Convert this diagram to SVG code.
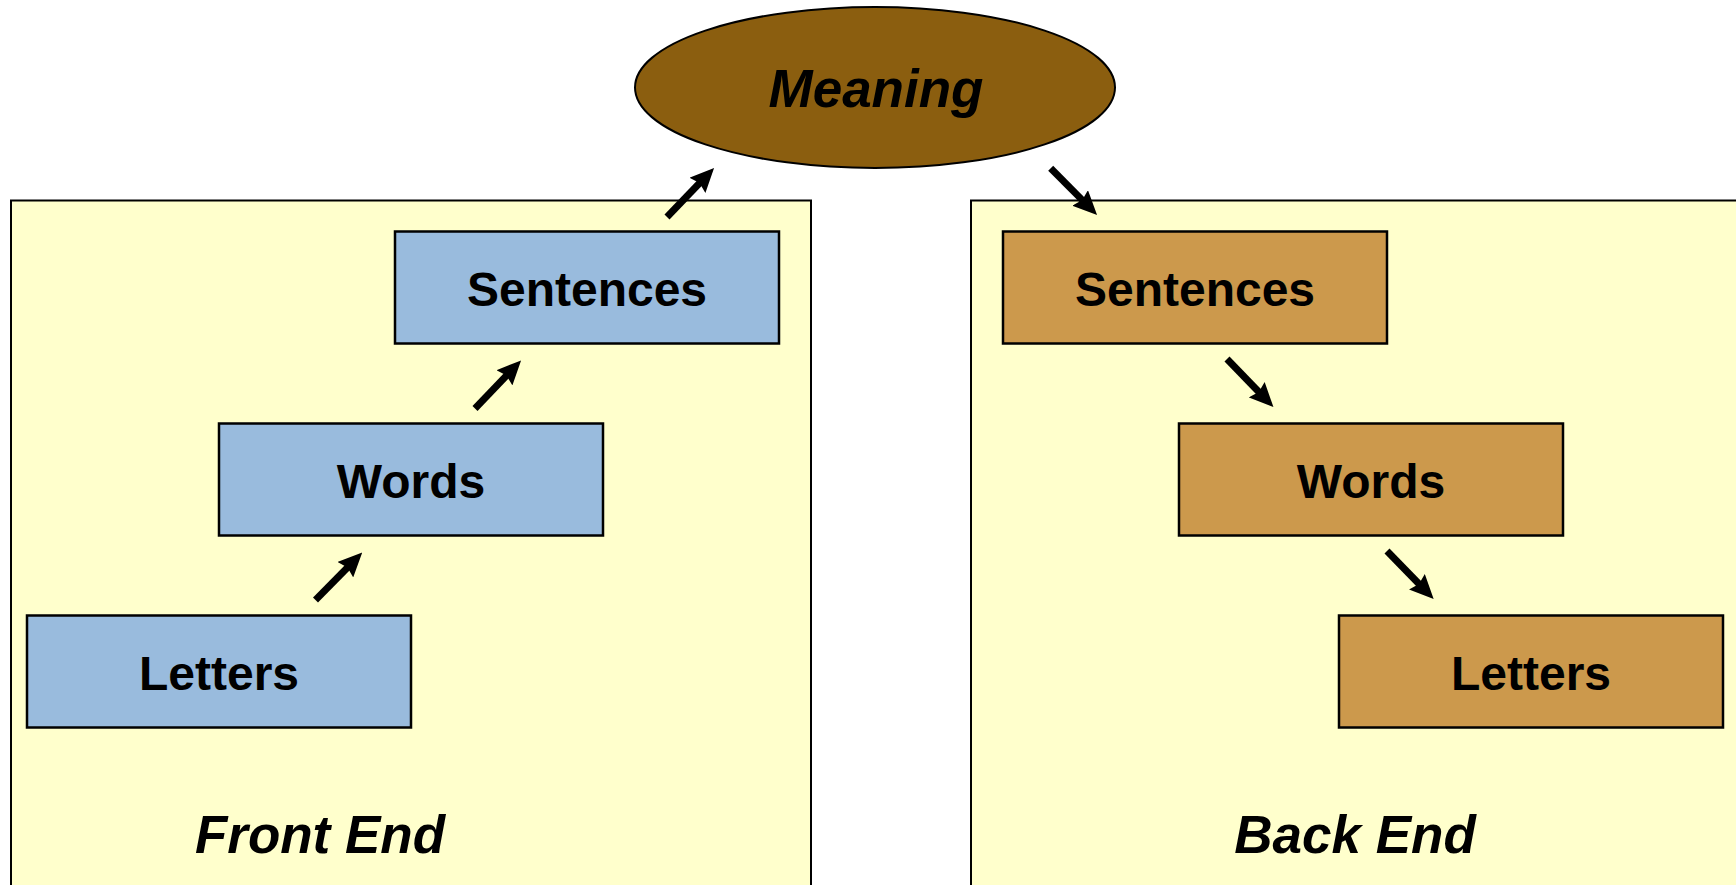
<svg xmlns="http://www.w3.org/2000/svg" width="1736" height="885" viewBox="0 0 1736 885">
<style>
.panel{fill:#FFFFCC;stroke:#000;stroke-width:2}
.blue{fill:#99BBDD;stroke:#000;stroke-width:2.5}
.tan{fill:#CC994C;stroke:#000;stroke-width:2.5}
.lbl{font-family:"Liberation Sans",Arial,sans-serif;font-weight:bold;font-size:48px;text-anchor:middle;fill:#000}
.ital{font-family:"Liberation Sans",Arial,sans-serif;font-weight:bold;font-style:italic;font-size:53px;text-anchor:middle;fill:#000}
.arr{stroke:#000;stroke-width:7;fill:none;marker-end:url(#ah)}
</style>
<defs>
<marker id="ah" markerUnits="userSpaceOnUse" viewBox="0 0 24 22" refX="8" refY="11" markerWidth="24" markerHeight="22" orient="auto">
<path d="M0,0 L24,11 L0,22 L3,11 z" fill="#000"/>
</marker>
</defs>
<rect width="1736" height="885" fill="#fff"/>
<g id="front-end">
<rect class="panel" x="11" y="200.5" width="800" height="700"/>
<text class="ital" x="320" y="853">Front End</text>
</g>
<g id="back-end">
<rect class="panel" x="971" y="200.5" width="800" height="700"/>
<text class="ital" x="1355" y="853">Back End</text>
</g>
<g id="meaning">
<ellipse cx="875" cy="87.5" rx="240" ry="80.5" fill="#8B5E0F" stroke="#000" stroke-width="2"/>
<text class="ital" x="876" y="107">Meaning</text>
</g>
<g id="fe-sentences">
<rect class="blue" x="395" y="231.5" width="384" height="112"/>
<text class="lbl" x="587" y="306">Sentences</text>
</g>
<g id="fe-words">
<rect class="blue" x="219" y="423.5" width="384" height="112"/>
<text class="lbl" x="411" y="498">Words</text>
</g>
<g id="fe-letters">
<rect class="blue" x="27" y="615.5" width="384" height="112"/>
<text class="lbl" x="219" y="690">Letters</text>
</g>
<g id="be-sentences">
<rect class="tan" x="1003" y="231.5" width="384" height="112"/>
<text class="lbl" x="1195" y="306">Sentences</text>
</g>
<g id="be-words">
<rect class="tan" x="1179" y="423.5" width="384" height="112"/>
<text class="lbl" x="1371" y="498">Words</text>
</g>
<g id="be-letters">
<rect class="tan" x="1339" y="615.5" width="384" height="112"/>
<text class="lbl" x="1531" y="690">Letters</text>
</g>
<g id="connectors">
<line class="arr" x1="315.5" y1="600" x2="351" y2="564"/>
<line class="arr" x1="475" y1="408.5" x2="510" y2="372"/>
<line class="arr" x1="667" y1="217" x2="703" y2="179.5"/>
<line class="arr" x1="1050.7" y1="168.3" x2="1085.8" y2="203.6"/>
<line class="arr" x1="1227" y1="359" x2="1262.3" y2="395.5"/>
<line class="arr" x1="1387" y1="551" x2="1422.5" y2="587.5"/>
</g>
</svg>
